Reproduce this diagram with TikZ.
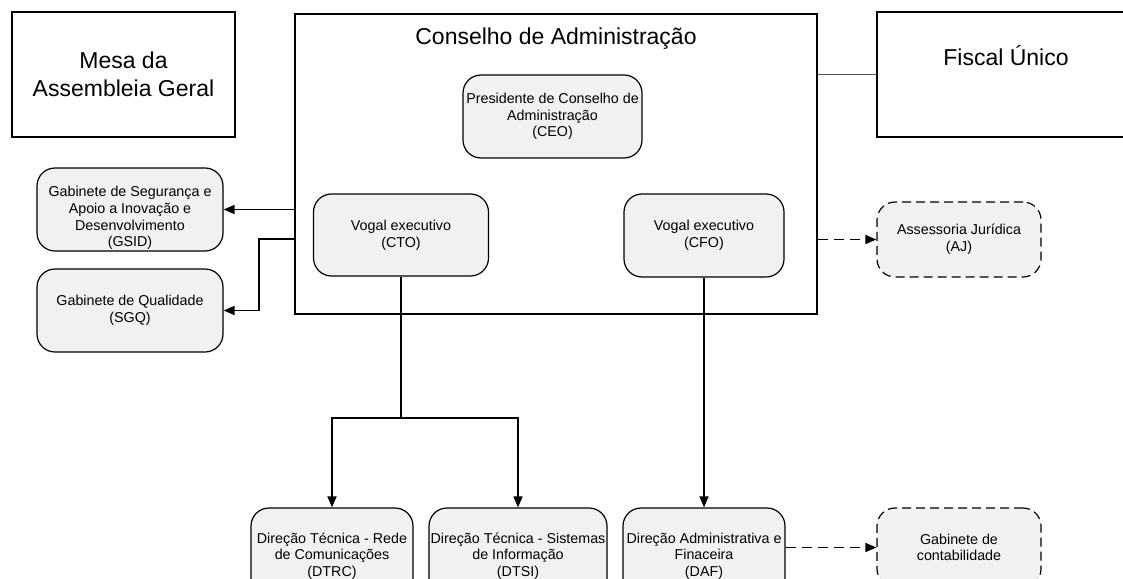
\documentclass[tikz,border=0pt]{standalone}
\usepackage{fontspec}
\setmainfont{Liberation Sans}
\usetikzlibrary{arrows.meta,calc}
\definecolor{boxfill}{RGB}{241,241,241}
\definecolor{linkgray}{RGB}{85,85,85}
\newcommand\smallfnt{\fontsize{14.3}{16.6}\selectfont}
\newcommand\bigfnt{\fontsize{23}{28.5}\selectfont}
\tikzset{
  orgbox/.style={draw=black, line width=1.2pt, fill=boxfill, rounded corners=18pt,
    inner sep=0pt, align=center, font=\smallfnt},
  dashbox/.style={orgbox, dash pattern=on 9pt off 5pt},
  bigbox/.style={draw=black, line width=1.5pt, inner sep=0pt, align=center, font=\bigfnt},
  txt/.style={inner sep=0pt, align=center, font=\smallfnt},
  bigtxt/.style={inner sep=0pt, align=center, font=\bigfnt},
  conn/.style={draw=black, line width=1.6pt},
  arr/.style={conn, -{Triangle[length=11pt,width=9pt]}},
  darr/.style={arr, dash pattern=on 10pt off 6pt},
}
\begin{document}
\begin{tikzpicture}[x=1pt,y=-1pt]
\useasboundingbox (0,0) rectangle (1123,578);
\clip (0,0) rectangle (1123,578);

% top level boxes
\node[bigbox, minimum width=223pt, minimum height=125pt] (mesa) at (123.5,74.5) {Mesa da\\Assembleia Geral};
\node[bigbox, minimum width=522pt, minimum height=300pt] (conselho) at (556,164) {};
\node[bigtxt, anchor=base] (conselhot) at (556,45) {Conselho de Administração};
\node[bigbox, minimum width=258pt, minimum height=125pt] (fiscal) at (1006,74.5) {};
\node[bigtxt, anchor=base] (fiscalt) at (1006,65) {Fiscal Único};

% inside the board
\node[orgbox, minimum width=179pt, minimum height=83pt] (ceo) at (552.5,116.5) {Presidente de Conselho de\\Administração\\(CEO)};
\node[orgbox, minimum width=175pt, minimum height=82pt] (cto) at (401,235) {Vogal executivo\\(CTO)};
\node[orgbox, minimum width=160pt, minimum height=83pt] (cfo) at (704,235.5) {Vogal executivo\\(CFO)};

% left side
\node[orgbox, minimum width=186pt, minimum height=83pt] (gsid) at (130,209.5) {};
\node[txt] (gsidt) at (130,218) {Gabinete de Segurança e\\Apoio a Inovação e\\Desenvolvimento\\(GSID)};
\node[orgbox, minimum width=186pt, minimum height=83pt] (sgq) at (130,310.5) {Gabinete de Qualidade\\(SGQ)};

% right side
\node[dashbox, minimum width=164pt, minimum height=75pt] (aj) at (959,239.5) {Assessoria Jurídica\\(AJ)};

% bottom row
\node[orgbox, minimum width=162pt, minimum height=96pt] (dtrc) at (332,556) {Direção Técnica - Rede\\de Comunicações\\(DTRC)};
\node[orgbox, minimum width=178pt, minimum height=96pt] (dtsi) at (518,556) {Direção Técnica - Sistemas\\de Informação\\(DTSI)};
\node[orgbox, minimum width=162pt, minimum height=96pt] (daf) at (704,556) {Direção Administrativa e\\Finaceira\\(DAF)};
\node[dashbox, minimum width=164pt, minimum height=79pt] (contab) at (959,547.5) {Gabinete de\\contabilidade};

% connectors
\draw[conn, draw=linkgray] (fiscal.west -| conselho.east) -- (fiscal.west);
\draw[arr] (conselho.west |- gsid.east) -- (gsid.east);
\coordinate (cw2) at (295,239);
\draw[arr] (cw2) -- ++(-36,0) |- (sgq.east);
\draw[darr] (conselho.east |- aj.west) -- (aj.west);
\coordinate (j) at (401,418);
\draw[conn] (cto.south) -- (j);
\draw[arr] (j) -| (dtrc.north);
\draw[arr] (j) -| (dtsi.north);
\draw[arr] (cfo.south) -- (daf.north);
\draw[darr] (daf.east |- contab.west) -- (contab.west);
\end{tikzpicture}
\end{document}
